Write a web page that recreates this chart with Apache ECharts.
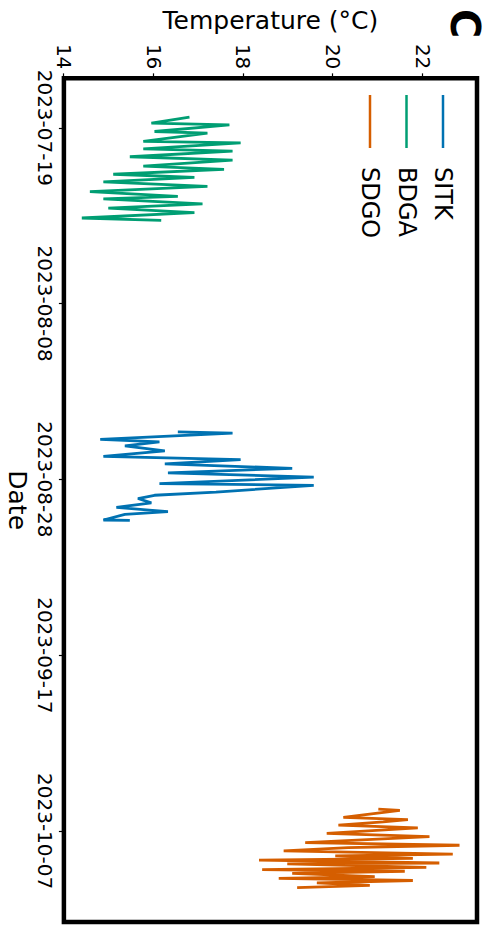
<!DOCTYPE html>
<html><head><meta charset="utf-8">
<script src="https://cdn.jsdelivr.net/npm/echarts@6/dist/echarts.min.js"></script>
<style>
html,body{margin:0;padding:0;background:#fff;overflow:hidden;width:491px;height:930px}
#chart{position:absolute;left:0;top:0;width:930px;height:491px;transform-origin:0 0;transform:translate(491px,0) rotate(90deg);}
</style></head><body><div id="chart"></div>
<script>
// ---- data ----
const seriesNames = ['SITK', 'BDGA', 'SDGO'];
const seriesColors = ['#0072B2', '#009E73', '#D55E00'];

const sitkTimes = ['2023-08-22 14:15','2023-08-22 17:20','2023-08-23 10:20','2023-08-23 17:30','2023-08-24 04:20','2023-08-24 17:45','2023-08-25 09:10','2023-08-25 18:00','2023-08-26 05:45','2023-08-26 17:30','2023-08-27 06:00','2023-08-27 17:45','2023-08-28 11:30','2023-08-28 16:05','2023-08-29 10:20','2023-08-29 19:10','2023-08-30 04:05','2023-08-30 15:50','2023-08-31 04:20','2023-08-31 16:05','2023-08-31 23:15','2023-09-01 14:40','2023-09-01 16:00'];
const sitkTemps = [16.54,17.76,14.81,16.13,15.36,16.25,14.88,17.94,16.25,19.09,16.32,19.57,16.13,19.57,17.39,16.02,15.65,15.95,15.17,16.32,15.36,14.88,15.47];

const bdgaTimes = ['2023-07-17 19:10','2023-07-18 11:15','2023-07-18 15:50','2023-07-19 10:05','2023-07-19 14:25','2023-07-20 13:00','2023-07-20 17:15','2023-07-21 09:20','2023-07-21 15:50','2023-07-22 07:00','2023-07-22 16:05','2023-07-23 08:25','2023-07-23 17:15','2023-07-24 06:45','2023-07-24 15:35','2023-07-25 03:35','2023-07-25 15:50','2023-07-26 06:30','2023-07-26 19:00','2023-07-27 02:10','2023-07-27 15:35','2023-07-28 03:05','2023-07-28 15:50','2023-07-29 06:15','2023-07-29 12:45'];
const bdgaTemps = [16.80,15.95,17.69,16.02,17.20,15.77,17.94,15.77,17.76,15.47,17.76,15.77,17.57,15.10,16.91,14.88,17.20,14.58,16.54,14.88,17.09,14.99,16.91,14.40,16.17];

const sdgoTimes = ['2023-10-04 12:00','2023-10-04 15:20','2023-10-05 10:20','2023-10-05 16:35','2023-10-05 22:50','2023-10-06 07:55','2023-10-06 15:05','2023-10-07 06:15','2023-10-07 15:20','2023-10-08 07:25','2023-10-08 14:40','2023-10-08 20:55','2023-10-09 06:00','2023-10-09 14:55','2023-10-09 19:25','2023-10-10 02:40','2023-10-10 07:10','2023-10-10 15:05','2023-10-10 17:45','2023-10-11 02:55','2023-10-11 09:05','2023-10-11 13:40','2023-10-11 19:10','2023-10-12 04:05','2023-10-12 09:20','2023-10-12 14:55','2023-10-12 21:05','2023-10-13 04:20','2023-10-13 10:35'];
const sdgoTemps = [21.01,21.49,20.23,21.67,21.12,20.12,21.89,19.86,22.15,19.38,22.82,20.34,18.90,22.67,20.05,21.78,18.35,22.37,18.98,22.08,18.42,21.60,19.09,20.93,18.79,21.78,19.64,20.82,19.20];

const dateTicks = ['2023-07-19','2023-08-08','2023-08-28','2023-09-17','2023-10-07'];
const tempTicks = [14, 16, 18, 20, 22];
const dateMin = '2023-07-13 09:00';
const dateMax = '2023-10-17 08:10';
const tempMin = 14;
const tempMax = 23.21;

// ---- chart ----
const FONT = 'DejaVu Sans';
function toMs(s) { const p = s.split(' '); return new Date(p[0] + 'T' + (p[1] || '00:00') + ':00').getTime(); }
function zip(t, v) { return t.map((x, i) => [toMs(x), v[i]]); }
function pad(n) { return (n < 10 ? '0' : '') + n; }
const allData = [zip(sitkTimes, sitkTemps), zip(bdgaTimes, bdgaTemps), zip(sdgoTimes, sdgoTemps)];
const dateTickMs = dateTicks.map(toMs);

const chart = echarts.init(document.getElementById('chart'), null, {renderer: 'svg', width: 930, height: 491});
chart.setOption({
  animation: false,
  backgroundColor: '#fff',
  textStyle: {fontFamily: FONT, color: '#000'},
  grid: {left: 67, right: 8, top: 14, bottom: 61, show: true, borderColor: '#000', borderWidth: 4.5, backgroundColor: 'transparent'},
  legend: {
    orient: 'vertical', left: 90, top: 31, itemWidth: 53, itemHeight: 2.5, itemGap: 12.5,
    icon: 'rect',
    data: seriesNames,
    textStyle: {fontFamily: FONT, fontSize: 24, color: '#000', padding: [0, 0, 0, 14]}
  },
  graphic: [{
    type: 'text', left: 9, top: 6,
    style: {text: 'C', font: 'bold 40px "DejaVu Sans"', fill: '#000'}
  }],
  xAxis: {
    type: 'value', min: toMs(dateMin), max: toMs(dateMax),
    name: 'Date', nameLocation: 'middle', nameGap: 33,
    nameTextStyle: {fontFamily: FONT, fontSize: 25, color: '#000'},
    axisLine: {show: false, onZero: false},
    axisTick: {show: true, length: 5, customValues: dateTickMs, lineStyle: {color: '#000', width: 1.2}},
    axisLabel: {customValues: dateTickMs, fontFamily: FONT, fontSize: 20, color: '#000', margin: 9,
      formatter: function (v) { const d = new Date(v); return d.getFullYear() + '-' + pad(d.getMonth() + 1) + '-' + pad(d.getDate()); }},
    splitLine: {show: false}
  },
  yAxis: {
    type: 'value', min: tempMin, max: tempMax,
    name: 'Temperature (°C)', nameLocation: 'middle', nameGap: 36, nameRotate: 90,
    nameTextStyle: {fontFamily: FONT, fontSize: 25, color: '#000'},
    axisLine: {show: false},
    axisTick: {show: true, length: 5, customValues: tempTicks, lineStyle: {color: '#000', width: 1.2}},
    axisLabel: {customValues: tempTicks, fontFamily: FONT, fontSize: 20, color: '#000', margin: 9},
    splitLine: {show: false}
  },
  series: seriesNames.map((n, i) => ({
    name: n, type: 'line', data: allData[i],
    showSymbol: false, symbol: 'none',
    color: seriesColors[i],
    lineStyle: {color: seriesColors[i], width: 2.8},
    z: 2
  }))
});
</script></body></html>
